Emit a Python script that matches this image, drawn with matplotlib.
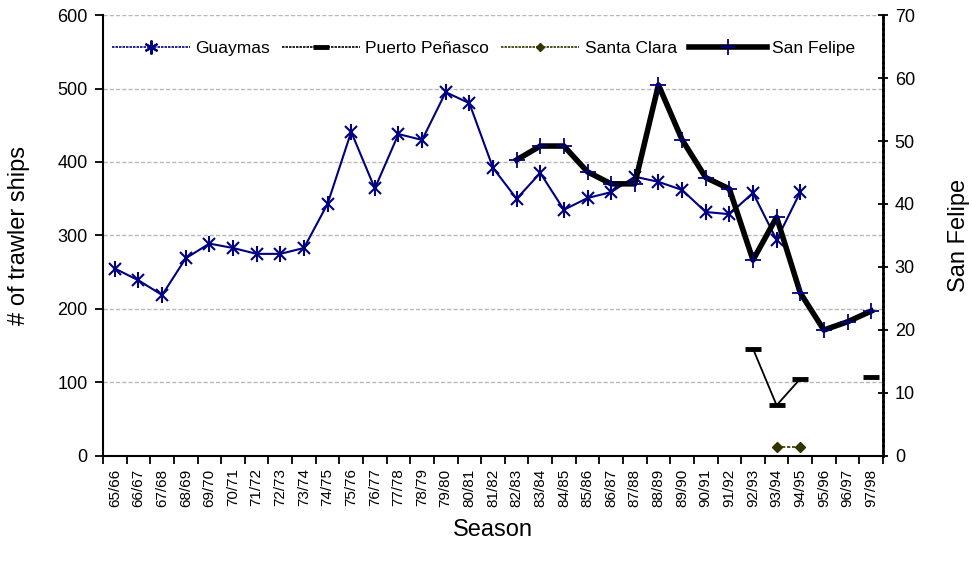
import numpy as np
import matplotlib
matplotlib.use("Agg")
import matplotlib.pyplot as plt
from matplotlib.lines import Line2D

plt.rcParams['font.family'] = ['Liberation Sans', 'DejaVu Sans']

nan = np.nan
seasons = ["65/66", "66/67", "67/68", "68/69", "69/70", "70/71", "71/72", "72/73",
           "73/74", "74/75", "75/76", "76/77", "77/78", "78/79", "79/80", "80/81",
           "81/82", "82/83", "83/84", "84/85", "85/86", "86/87", "87/88", "88/89",
           "89/90", "90/91", "91/92", "92/93", "93/94", "94/95", "95/96", "96/97",
           "97/98"]

guaymas = [255, 239, 219, 269, 289, 283, 275, 275, 283, 343, 441, 364, 438, 430,
           495, 480, 392, 350, 385, 335, 351, 359, 380, 373, 362, 332, 329, 358,
           294, 359, nan, nan, nan]

puerto_penasco = [nan] * 27 + [146, 69, 105, nan, nan, 107]

santa_clara = [nan] * 28 + [12.5, 12.5, nan, nan, nan]

san_felipe = [nan] * 17 + [47.0, 49.2, 49.2, 45.1, 43.2, 43.2, 58.9, 50.2, 44.2,
                           42.4, 31.1, 37.9, 25.9, 20.0, 21.3, 23.0]

navy = '#000080'
olive = '#333300'

fig = plt.figure(figsize=(9.72, 5.64), dpi=100)
ax = fig.add_axes([0.106, 0.1915, 0.8024, 0.7819])
ax2 = ax.twinx()

x = np.arange(len(seasons))

# Guaymas
ax.plot(x, guaymas, color=navy, lw=1.5, marker='x', ms=9, mew=1.5, zorder=3)
ax.plot(x, guaymas, color=navy, lw=0, marker='|', ms=12, mew=1.5, zorder=3)

# Puerto Peñasco
ax.plot(x, puerto_penasco, color='black', lw=1.3, marker='_', ms=11, mew=3.5, zorder=3)

# Santa Clara
ax.plot(x, santa_clara, color=olive, lw=1.2, ls=(0, (2, 1)), marker='D', ms=5,
        mfc=olive, mec=olive, zorder=3)

# San Felipe (right axis)
ax2.plot(x, san_felipe, color='black', lw=4, zorder=3)
ax2.plot(x, san_felipe, color=navy, lw=0, marker='+', ms=12, mew=1.3, zorder=4)

ax.set_xlim(-0.5, len(seasons) - 0.5)
ax.set_ylim(0, 600)
ax2.set_ylim(0, 70)

ax.set_yticks(np.arange(0, 601, 100))
ax2.set_yticks(np.arange(0, 71, 10))
ax.yaxis.grid(True, color='#b8b8b8', ls=(0, (3, 1.5)), lw=1.0)
ax.set_axisbelow(True)

ax.set_xticks(x)
ax.set_xticklabels(seasons, rotation=90, fontsize=11)
ax.set_xticks(np.arange(-0.5, len(seasons), 1), minor=True)
ax.tick_params(axis='x', which='major', length=0, pad=9)
ax.tick_params(axis='x', which='minor', length=6, width=1.3, direction='out')
ax.tick_params(axis='y', length=6, width=1.3, direction='out', labelsize=13, pad=5)
ax2.tick_params(axis='y', length=7, width=1.3, direction='inout', labelsize=13, pad=5)

for s in ['top']:
    ax.spines[s].set_visible(False)
    ax2.spines[s].set_visible(False)
ax.spines['left'].set_linewidth(1.5)
ax.spines['bottom'].set_linewidth(1.5)
ax.spines['right'].set_visible(False)
ax2.spines['left'].set_visible(False)
ax2.spines['bottom'].set_visible(False)
ax2.spines['right'].set_linewidth(2)
ax2.spines['right'].set_linestyle((0, (1.5, 0.5)))

ax.set_ylabel('# of trawler ships', fontsize=17, labelpad=20)
ax2.set_ylabel('San Felipe', fontsize=17, labelpad=24)
ax.set_xlabel('Season', fontsize=17, labelpad=9)

handles = [
    Line2D([], [], color=navy, lw=1.2, ls=(0, (1.5, 0.6)), marker=(6, 2, 0), ms=10, mew=1.5),
    Line2D([], [], color='black', lw=1.2, ls=(0, (1.5, 0.6)), marker='_', ms=11, mew=3.5),
    Line2D([], [], color=olive, lw=1.2, ls=(0, (1.5, 0.6)), marker='D', ms=4),
    Line2D([], [], color='black', lw=4, marker='+', ms=12, mew=1.3, mec=navy),
]
labels = ['Guaymas', 'Puerto Peñasco', 'Santa Clara', 'San Felipe']
ax.legend(handles, labels, loc='upper left', bbox_to_anchor=(0.0, 0.96), ncol=4,
          frameon=False, fontsize=12.5, handlelength=4.5, handletextpad=0.3,
          columnspacing=0.7, borderaxespad=0.3, borderpad=0.2)

fig.savefig('out.png', dpi=100)
